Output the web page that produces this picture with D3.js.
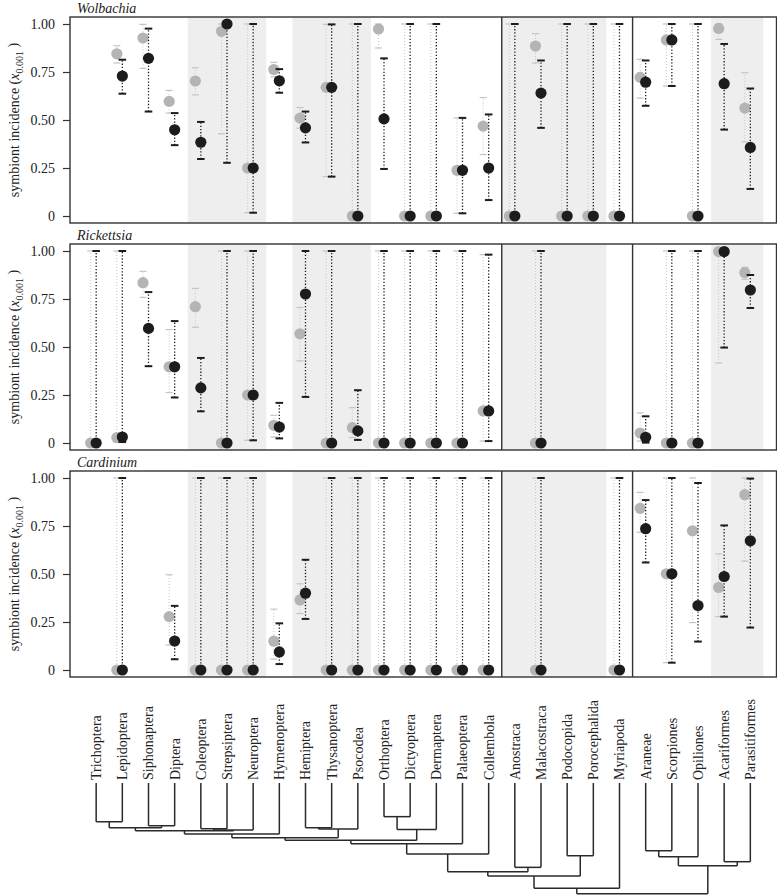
<!DOCTYPE html>
<html><head><meta charset="utf-8">
<script src="https://cdnjs.cloudflare.com/ajax/libs/d3/7.8.5/d3.min.js"></script>
<style>
html,body{margin:0;padding:0;background:#fff;}
svg{display:block;font-family:"Liberation Serif","Times New Roman",serif;}
</style></head>
<body><svg id="chart" width="777" height="895"></svg>
<script>
// ---------------- DATA ----------------
const taxa = ["Trichoptera","Lepidoptera","Siphonaptera","Diptera","Coleoptera","Strepsiptera","Neuroptera",
  "Hymenoptera","Hemiptera","Thysanoptera","Psocodea","Orthoptera","Dictyoptera","Dermaptera","Palaeoptera",
  "Collembola","Anostraca","Malacostraca","Podocopida","Porocephalida","Myriapoda","Araneae","Scorpiones",
  "Opiliones","Acariformes","Parasitiformes"];

const symbionts = ["Wolbachia","Rickettsia","Cardinium"];

// grey series: [estimate, lower, upper] per taxon (null = no data)
const wolbachiaGrey = [null,[0.845,0.797,0.887],[0.927,0.769,0.998],[0.597,0.536,0.654],[0.703,0.631,0.772],
  [0.962,0.428,1.0],[0.25,0.017,1.0],[0.763,0.725,0.80],[0.51,0.457,0.565],[0.67,0.205,0.998],[0,0,1],
  [0.974,0.875,1.0],[0,0,1],[0,0,1],[0.238,0.014,0.511],[0.468,0.32,0.617],[0,0,1],[0.885,0.797,0.95],
  [0,0,1],[0,0,1],[0,0,1],[0.722,0.614,0.816],[0.917,0.677,1.0],[0,0,1],[0.977,0.92,1.0],[0.562,0.386,0.746]];
const wolbachiaBlack = [null,[0.729,0.637,0.814],[0.821,0.544,0.976],[0.449,0.369,0.536],[0.384,0.297,0.49],
  [1.0,0.277,1.0],[0.25,0.017,1.0],[0.704,0.642,0.765],[0.459,0.383,0.544],[0.67,0.205,0.998],[0,0,1],
  [0.506,0.245,0.821],[0,0,1],[0,0,1],[0.238,0.014,0.511],[0.25,0.083,0.529],[0,0,1],[0.64,0.459,0.81],
  [0,0,1],[0,0,1],[0,0,1],[0.697,0.574,0.81],[0.917,0.677,1.0],[0,0,1],[0.689,0.45,0.896],[0.357,0.141,0.664]];

const rickettsiaGrey = [[0,0,1],[0.028,0.005,1.0],[0.835,0.758,0.894],[0.397,0.263,0.591],[0.71,0.603,0.805],
  [0,0,1],[0.25,0.014,1.0],[0.092,0.031,0.144],[0.569,0.428,0.706],[0,0,1],[0.08,0.028,0.184],[0,0,1],[0,0,1],
  [0,0,1],[0,0,1],[0.167,0.01,0.981],null,[0,0,1],null,null,null,[0.052,0.01,0.157],[0,0,1],[0,0,1],
  [0.997,0.417,1.0],[0.887,0.852,0.915]];
const rickettsiaBlack = [[0,0,1],[0.031,0.005,1.0],[0.597,0.40,0.786],[0.397,0.237,0.635],[0.287,0.165,0.443],
  [0,0,1],[0.25,0.014,1.0],[0.083,0.024,0.209],[0.776,0.24,1.0],[0,0,1],[0.063,0.016,0.275],[0,0,1],[0,0,1],
  [0,0,1],[0,0,1],[0.167,0.01,0.981],null,[0,0,1],null,null,null,[0.030,0.002,0.139],[0,0,1],[0,0,1],
  [0.997,0.497,1.0],[0.797,0.703,0.875]];

const cardiniumGrey = [null,[0,0,1],null,[0.278,0.13,0.496],[0,0,1],[0,0,1],[0,0,1],[0.15,0.057,0.317],
  [0.365,0.294,0.449],[0,0,1],[0,0,1],[0,0,1],[0,0,1],[0,0,1],[0,0,1],[0,0,1],null,[0,0,1],null,null,[0,0,1],
  [0.842,0.717,0.925],[0.501,0.038,1.0],[0.725,0.247,1.0],[0.43,0.278,0.605],[0.913,0.567,1.0]];
const cardiniumBlack = [null,[0,0,1],null,[0.151,0.056,0.334],[0,0,1],[0,0,1],[0,0,1],[0.094,0.031,0.243],
  [0.40,0.266,0.574],[0,0,1],[0,0,1],[0,0,1],[0,0,1],[0,0,1],[0,0,1],[0,0,1],null,[0,0,1],null,null,[0,0,1],
  [0.736,0.56,0.885],[0.501,0.038,1.0],[0.336,0.148,0.974],[0.487,0.278,0.753],[0.673,0.221,0.997]];

const yTicks = [0,0.25,0.5,0.75,1];
const yTickLabels = ["0","0.25","0.50","0.75","1.00"];

// shaded taxon groups (first index, last index) and group dividers (between indices)
const shadedGroups = [[4,6],[8,10],[16,19],[24,25]];
const dividers = [15.5,20.5];

// phylogeny: [node depth (0 = tips, 100 = root), child, child]
const tree = [100,
  [95.1,
    [84.0,
      [80.1,
        [64.1,
          [54.8,
            [51.8,
              [49.4,
                [46.1,
                  [43.2,
                    [40.4,[35.0,"Trichoptera","Lepidoptera"],[38.6,"Siphonaptera","Diptera"]],
                    [42.5,[41.3,"Coleoptera","Strepsiptera"],"Neuroptera"]],
                  "Hymenoptera"],
                [41.6,[40.4,"Hemiptera","Thysanoptera"],"Psocodea"]],
              [42.0,[30.4,"Orthoptera","Dictyoptera"],"Dermaptera"]],
            "Palaeoptera"],
          "Collembola"],
        [76.2,"Anostraca","Malacostraca"]],
      [65.7,"Podocopida","Porocephalida"]],
    "Myriapoda"],
  [74.7,[66.6,[61.2,"Araneae","Scorpiones"],"Opiliones"],[71.1,"Acariformes","Parasitiformes"]]
];

const panelData = [
  {name:symbionts[0], grey:wolbachiaGrey, black:wolbachiaBlack},
  {name:symbionts[1], grey:rickettsiaGrey, black:rickettsiaBlack},
  {name:symbionts[2], grey:cardiniumGrey, black:cardiniumBlack}
];

// ---------------- LAYOUT ----------------
const svg = d3.select("#chart");
const left = 70, right = 776.5;
const panelTops = [17, 244, 471];
const panelH = 206;
const x = d3.scaleLinear().domain([-1, taxa.length]).range([left, right]);
const greyOff = -5.5;
const ink = "#1c1c1c";

panelData.forEach((p, k) => {
  const top = panelTops[k];
  const y = d3.scaleLinear().domain([0,1]).range([top + panelH - 7, top + 7]);
  const g = svg.append("g");

  // shading
  g.selectAll("rect.shade").data(shadedGroups).enter().append("rect")
    .attr("x", d => x(d[0]-0.5)).attr("width", d => x(d[1]+0.5) - x(d[0]-0.5))
    .attr("y", top).attr("height", panelH).attr("fill", "#eeeeee");

  function drawSeries(arr, off, cfg) {
    const rows = arr.map((d,i) => d ? {i, est:d[0], lo:d[1], hi:d[2]} : null).filter(d => d);
    const s = g.append("g");
    s.selectAll("line.bar").data(rows).enter().append("line")
      .attr("x1", d => x(d.i)+off).attr("x2", d => x(d.i)+off)
      .attr("y1", d => y(d.lo)).attr("y2", d => y(d.hi))
      .attr("stroke", cfg.color).attr("stroke-width", cfg.lw).attr("stroke-dasharray", cfg.dash);
    ["lo","hi"].forEach(key => {
      s.selectAll("line.cap"+key).data(rows).enter().append("line")
        .attr("x1", d => x(d.i)+off-cfg.cap).attr("x2", d => x(d.i)+off+cfg.cap)
        .attr("y1", d => y(d[key])).attr("y2", d => y(d[key]))
        .attr("stroke", cfg.color).attr("stroke-width", cfg.capw);
    });
    s.selectAll("circle").data(rows).enter().append("circle")
      .attr("cx", d => x(d.i)+off).attr("cy", d => y(d.est)).attr("r", 5.6)
      .attr("fill", cfg.fill);
  }
  drawSeries(p.grey, greyOff, {color:"#c4c4c4", lw:1, dash:"1,2", cap:3.5, capw:1.2, fill:"#b4b4b4"});
  drawSeries(p.black, 0, {color:ink, lw:1.3, dash:"1.3,1.9", cap:3.8, capw:2, fill:ink});

  // frame + dividers
  g.append("rect").attr("x", left).attr("y", top).attr("width", right-left).attr("height", panelH)
    .attr("fill","none").attr("stroke","#333").attr("stroke-width",1.4);
  g.selectAll("line.div").data(dividers).enter().append("line")
    .attr("x1", d => x(d)).attr("x2", d => x(d)).attr("y1", top).attr("y2", top+panelH)
    .attr("stroke","#333").attr("stroke-width",1.4);

  // axis
  const ax = g.append("g").attr("transform", `translate(${left},0)`)
    .call(d3.axisLeft(y).tickValues(yTicks).tickFormat((d,i) => yTickLabels[i]).tickSize(7).tickPadding(8));
  ax.select(".domain").remove();
  ax.selectAll("line").attr("stroke","#333").attr("stroke-width",1.2);
  ax.selectAll("text").attr("font-family","Liberation Serif, serif").attr("font-size",14).attr("fill","#222");

  // title
  g.append("text").attr("x", 77).attr("y", top - 4).attr("font-style","italic")
    .attr("font-size",14).attr("fill","#222").text(p.name);

  // y title
  const yt = g.append("text").attr("transform", `translate(19,${top+panelH/2}) rotate(-90)`)
    .attr("text-anchor","middle").attr("font-size",14).attr("fill","#222");
  yt.append("tspan").text("symbiont incidence (");
  yt.append("tspan").attr("font-style","italic").text("x");
  yt.append("tspan").attr("font-size",10).attr("dy","0.35em").text("0.001");
  yt.append("tspan").attr("dy","-0.35em").text(" )");
});

// ---------------- TREE ----------------
const tipY = 783;
const ty = d3.scaleLinear().domain([0,100]).range([tipY, 893.7]);
const tg = svg.append("g").attr("stroke","#2a2a2a").attr("stroke-width",1.5).attr("fill","none");

function layout(node) {
  if (typeof node === "string") return {x: x(taxa.indexOf(node)), depth: 0};
  const kids = node.slice(1).map(layout);
  const nx = (kids[0].x + kids[kids.length-1].x) / 2;
  const ny = ty(node[0]);
  kids.forEach(k => {
    tg.append("line").attr("x1", k.x).attr("x2", k.x).attr("y1", ty(k.depth)).attr("y2", ny);
  });
  tg.append("line").attr("x1", kids[0].x).attr("x2", kids[kids.length-1].x).attr("y1", ny).attr("y2", ny);
  return {x: nx, depth: node[0]};
}
layout(tree);

svg.append("g").selectAll("text").data(taxa).enter().append("text")
  .attr("transform", (d,i) => `translate(${x(i)},${tipY-3}) rotate(-90)`)
  .attr("dy","0.35em").attr("text-anchor","start")
  .attr("font-size",14).attr("fill","#222")
  .text(d => d);
</script>
</body></html>
